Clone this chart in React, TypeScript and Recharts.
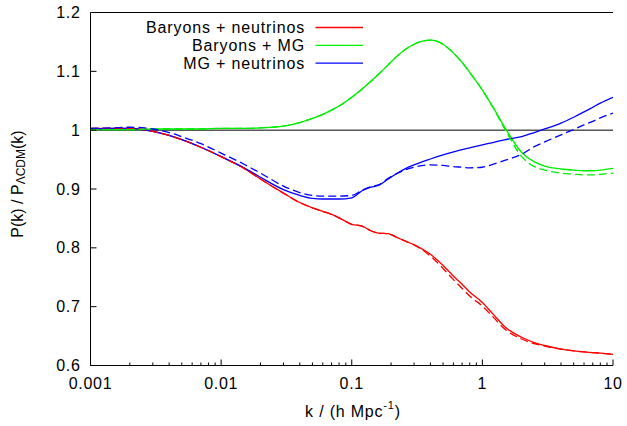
import { Legend, Line, LineChart, ReferenceLine, XAxis, YAxis } from "recharts";

// k in h/Mpc, shared by all curves
const kValues = [
  0.001, 0.0015, 0.002, 0.003, 0.004, 0.005, 0.007, 0.01, 0.015, 0.02, 0.03,
  0.04, 0.05, 0.06, 0.07, 0.08, 0.1, 0.12, 0.14, 0.16, 0.19, 0.22, 0.26, 0.3,
  0.4, 0.5, 0.6, 0.7, 0.8, 1, 1.2, 1.5, 2, 2.5, 3, 4, 5, 6, 7, 8, 10,
];

const baryonsNeutrinos = [
  1.003, 1.003, 1.003, 0.998, 0.991, 0.984, 0.971, 0.955, 0.935, 0.917, 0.893,
  0.877, 0.868, 0.862, 0.857, 0.851, 0.84, 0.837, 0.829, 0.825, 0.824, 0.818,
  0.811, 0.805, 0.789, 0.77, 0.752, 0.738, 0.725, 0.707, 0.688, 0.665, 0.648,
  0.639, 0.634, 0.628, 0.625, 0.623, 0.622, 0.621, 0.619,
];
const baryonsNeutrinosDashed = [
  1.003, 1.003, 1.003, 0.998, 0.991, 0.984, 0.971, 0.955, 0.935, 0.917, 0.893,
  0.877, 0.868, 0.862, 0.857, 0.851, 0.84, 0.837, 0.829, 0.825, 0.824, 0.818,
  0.811, 0.805, 0.786, 0.765, 0.746, 0.731, 0.718, 0.701, 0.683, 0.661, 0.645,
  0.637, 0.633, 0.628, 0.625, 0.623, 0.622, 0.621, 0.619,
];

const baryonsMG = [
  1.001, 1.001, 1.001, 1.002, 1.002, 1.002, 1.002, 1.003, 1.003, 1.004, 1.007,
  1.013, 1.02, 1.027, 1.034, 1.041, 1.056, 1.07, 1.083, 1.095, 1.111, 1.125,
  1.138, 1.146, 1.153, 1.146, 1.131, 1.115, 1.098, 1.068, 1.04, 1.003, 0.962,
  0.946, 0.939, 0.934, 0.932, 0.931, 0.931, 0.932, 0.935,
];
const baryonsMGDashed = [
  1.001, 1.001, 1.001, 1.002, 1.002, 1.002, 1.002, 1.003, 1.003, 1.004, 1.007,
  1.013, 1.02, 1.027, 1.034, 1.041, 1.056, 1.07, 1.083, 1.095, 1.111, 1.125,
  1.138, 1.146, 1.153, 1.146, 1.131, 1.115, 1.098, 1.068, 1.039, 1.0, 0.955,
  0.938, 0.932, 0.927, 0.925, 0.924, 0.924, 0.925, 0.927,
];

const mgNeutrinos = [
  1.002, 1.003, 1.003, 0.998, 0.991, 0.984, 0.971, 0.955, 0.936, 0.92, 0.899,
  0.889, 0.884, 0.883, 0.883, 0.883, 0.885, 0.897, 0.903, 0.906, 0.917, 0.926,
  0.935, 0.941, 0.951, 0.958, 0.963, 0.967, 0.97, 0.975, 0.979, 0.984, 0.989,
  0.996, 1.002, 1.012, 1.022, 1.031, 1.039, 1.046, 1.056,
];
const mgNeutrinosDashed = [
  1.003, 1.004, 1.005, 1.002, 0.996, 0.989, 0.977, 0.961, 0.942, 0.927, 0.905,
  0.894, 0.889, 0.888, 0.888, 0.888, 0.889, 0.898, 0.904, 0.907, 0.918, 0.926,
  0.933, 0.937, 0.941, 0.94, 0.938, 0.937, 0.936, 0.937, 0.942, 0.949, 0.959,
  0.972, 0.98, 0.992, 1.001, 1.009, 1.015, 1.021, 1.029,
];

const unityK = [0.001, 10];
const unityV = [1, 1];

const seriesNames = ["Baryons + neutrinos", "Baryons + MG", "MG + neutrinos"];
const seriesColors = ["#ff0000", "#00ee00", "#0000ff"];

const decades = [0.001, 0.01, 0.1, 1];
const minorSteps = [1, 2, 3, 4, 5, 6, 7, 8, 9];
const xMajorLabels = ["0.001", "0.01", "0.1", "1", "10"];
const yTicks = [0.6, 0.7, 0.8, 0.9, 1, 1.1, 1.2];
const yTickLabels = ["0.6", "0.7", "0.8", "0.9", "1", "1.1", "1.2"];

const xTicks = [...decades.flatMap((d) => minorSteps.map((m) => +(d * m).toPrecision(3))), 10];

const FONT = '"Liberation Sans", Arial, Helvetica, sans-serif';
const FS = 16;
const LS = 0.7;

const rows = (vals: number[], ks: number[] = kValues) =>
  ks.map((k, i) => ({ k, v: vals[i] }));

const majorIndex = (v: number) => {
  const l = Math.log10(v);
  return Math.abs(l - Math.round(l)) < 1e-6 ? Math.round(l) + 3 : -1;
};

const BottomTick = (props: any) => {
  const { x, y, payload } = props;
  const mi = majorIndex(payload.value);
  if (mi < 0) return <line x1={x} x2={x} y1={y} y2={y - 3} stroke="#000" />;
  return (
    <g>
      <line x1={x} x2={x} y1={y} y2={y - 6} stroke="#000" />
      <text x={x} y={y + 18} textAnchor="middle" dominantBaseline="central" fontFamily={FONT} fontSize={FS} letterSpacing={LS} fill="#000">
        {xMajorLabels[mi]}
      </text>
    </g>
  );
};

const TopTick = (props: any) => {
  const { x, y, payload } = props;
  const len = majorIndex(payload.value) < 0 ? 3 : 6;
  return <line x1={x} x2={x} y1={y} y2={y + len} stroke="#000" />;
};

const LeftTick = (props: any) => {
  const { x, y, payload } = props;
  const i = yTicks.findIndex((t) => Math.abs(t - payload.value) < 1e-6);
  return (
    <g>
      <line x1={x} x2={x + 6} y1={y} y2={y} stroke="#000" />
      <text x={x - 10} y={y} textAnchor="end" dominantBaseline="central" fontFamily={FONT} fontSize={FS} letterSpacing={LS} fill="#000">
        {yTickLabels[i]}
      </text>
    </g>
  );
};

const RightTick = (props: any) => {
  const { x, y } = props;
  return <line x1={x} x2={x - 6} y1={y} y2={y} stroke="#000" />;
};

const LegendBox = () => (
  <svg width={627} height={80} style={{ display: "block" }}>
    {seriesNames.map((name, i) => (
      <g key={name}>
        <text x={305} y={27.5 + i * 17.8} textAnchor="end" dominantBaseline="central" fontFamily={FONT} fontSize={FS} letterSpacing={0.85} fill="#000">
          {name}
        </text>
        <line x1={315.5} x2={363} y1={27.5 + i * 17.8} y2={27.5 + i * 17.8} stroke={seriesColors[i]} strokeWidth={1.3} />
      </g>
    ))}
  </svg>
);

export default function App() {
  const lineProps = {
    dataKey: "v",
    type: "monotone" as const,
    dot: false,
    activeDot: false,
    isAnimationActive: false,
    strokeWidth: 1.3,
  };
  return (
    <div style={{ position: "absolute", left: 0, top: 0, width: 627, height: 426, background: "#fff" }}>
      <LineChart width={627} height={426} margin={{ top: 12.5, right: 14, bottom: 15, left: 30 }}>
        <XAxis
          dataKey="k"
          type="number"
          scale="log"
          domain={[0.001, 10]}
          allowDataOverflow
          ticks={xTicks}
          interval={0}
          height={45.5}
          tickLine={false}
          tickSize={0}
          tickMargin={0}
          axisLine={{ stroke: "#000" }}
          tick={BottomTick}
          label={{
            content: () => (
              <text x={353} y={411} textAnchor="middle" dominantBaseline="central" fontFamily={FONT} fontSize={FS} letterSpacing={0.8} fill="#000">
                k / (h Mpc<tspan dy={-6} fontSize={11}>-1</tspan>
                <tspan dy={6} fontSize={FS}>)</tspan>
              </text>
            ),
          }}
        />
        <XAxis
          xAxisId="top"
          orientation="top"
          type="number"
          scale="log"
          domain={[0.001, 10]}
          allowDataOverflow
          ticks={xTicks}
          interval={0}
          height={0}
          tickLine={false}
          tickSize={0}
          tickMargin={0}
          axisLine={{ stroke: "#000" }}
          tick={TopTick}
        />
        <YAxis
          type="number"
          domain={[0.6, 1.2]}
          allowDataOverflow
          ticks={yTicks}
          interval={0}
          width={60.5}
          tickLine={false}
          tickSize={0}
          tickMargin={0}
          axisLine={{ stroke: "#000" }}
          tick={LeftTick}
          label={{
            content: () => (
              <text transform="rotate(-90, 17, 184)" x={17} y={184} textAnchor="middle" dominantBaseline="central" fontFamily={FONT} fontSize={FS} fill="#000">
                P(k) / P<tspan dy={4} fontSize={12}>ΛCDM</tspan>
                <tspan dy={-4} fontSize={FS}>(k)</tspan>
              </text>
            ),
          }}
        />
        <YAxis
          yAxisId="right"
          orientation="right"
          type="number"
          domain={[0.6, 1.2]}
          allowDataOverflow
          ticks={yTicks}
          interval={0}
          width={0}
          tickLine={false}
          tickSize={0}
          tickMargin={0}
          axisLine={{ stroke: "#000" }}
          tick={RightTick}
        />
        <Legend layout="vertical" align="center" verticalAlign="middle" content={LegendBox} wrapperStyle={{ position: "absolute", left: 0, top: 0, width: 627, height: 80 }} />
        <ReferenceLine y={1.2} stroke="#000" />
        <Line {...lineProps} data={rows(unityV, unityK)} stroke="#000" strokeWidth={1} type="linear" />
        <Line {...lineProps} data={rows(baryonsNeutrinos)} stroke={seriesColors[0]} />
        <Line {...lineProps} data={rows(baryonsMG)} stroke={seriesColors[1]} />
        <Line {...lineProps} data={rows(mgNeutrinos)} stroke={seriesColors[2]} />
        <Line {...lineProps} data={rows(baryonsNeutrinosDashed)} stroke={seriesColors[0]} strokeDasharray="8 4" />
        <Line {...lineProps} data={rows(baryonsMGDashed)} stroke={seriesColors[1]} strokeDasharray="8 4" />
        <Line {...lineProps} data={rows(mgNeutrinosDashed)} stroke={seriesColors[2]} strokeDasharray="8 4" />
      </LineChart>
    </div>
  );
}
